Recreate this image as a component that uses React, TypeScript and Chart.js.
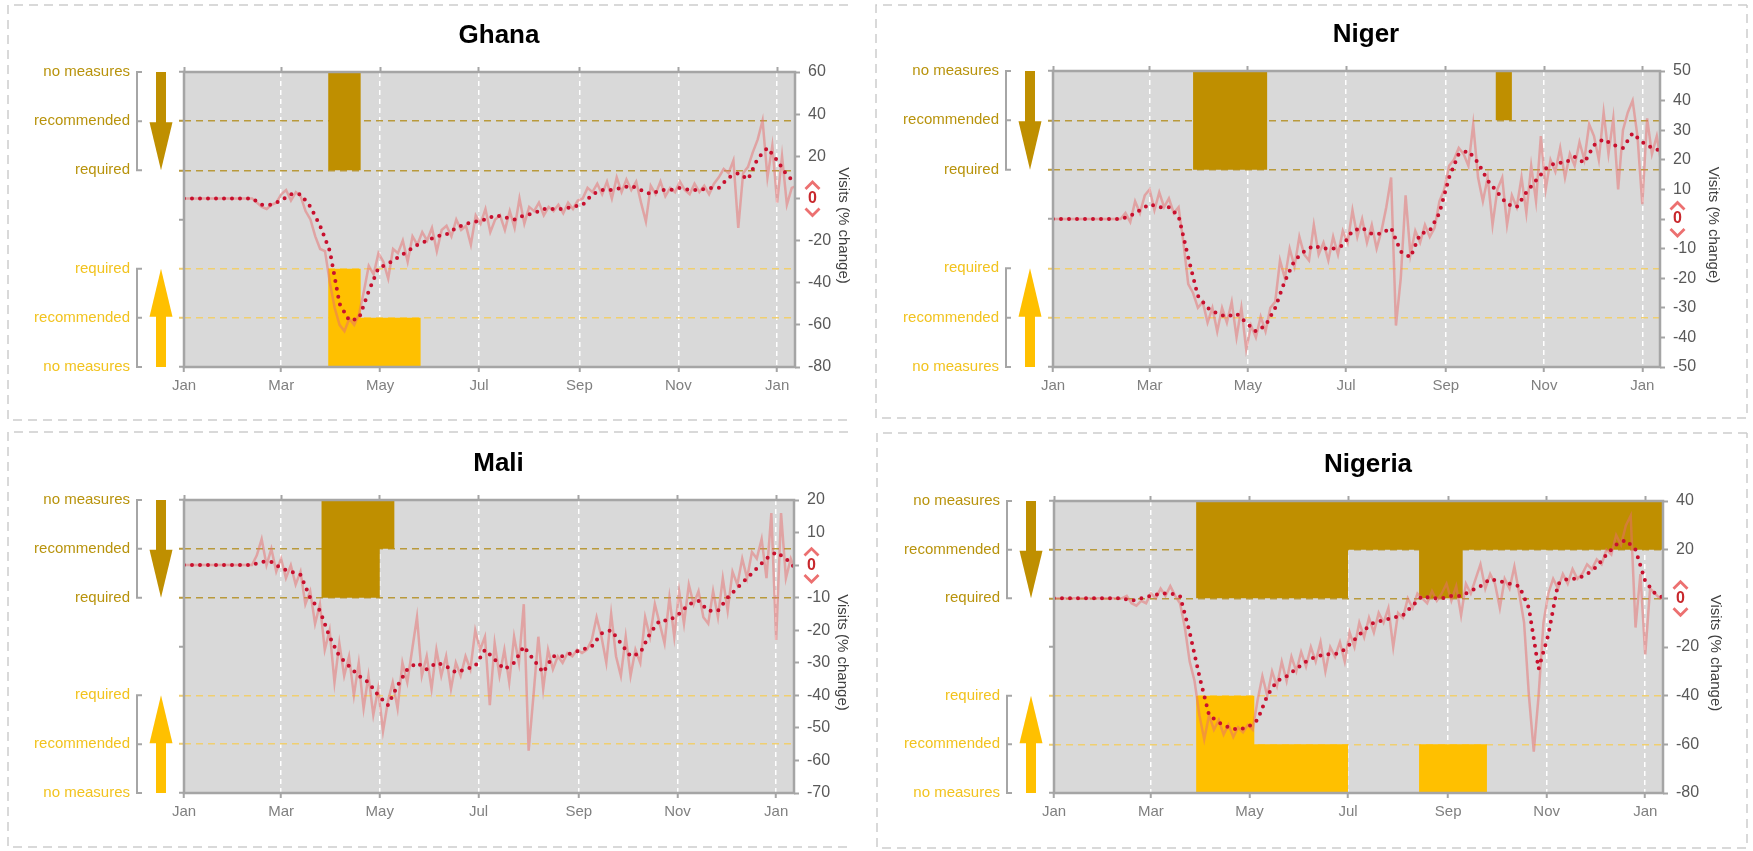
import React, { useEffect, useRef } from 'react';
import { Chart, registerables } from 'chart.js';

Chart.register(...registerables);

const FONT = '"Liberation Sans", Arial, Helvetica, sans-serif';
const X_MAX = 377;
const DAILY_STEP = 3;
const AVG_STEP = 6;

const monthTickDays = [0, 60, 121, 182, 244, 305, 366];
const monthTickLabels = ['Jan', 'Mar', 'May', 'Jul', 'Sep', 'Nov', 'Jan'];
const levelLabels = ['no measures', 'recommended', 'required', '', 'required', 'recommended', 'no measures'];

// ---------- Ghana ----------
const ghanaDaily = [
  0, 0, 0, 0, 0, 0, 0, 0, 0, 0,
  0, 0, 0, 0, 0, -2, -4, -5, -3, -2,
  2, 4, -1, 3, 1, -6, -10, -18, -24, -25,
  -40, -52, -60, -63, -57, -60, -55, -44, -32, -36,
  -26, -30, -38, -24, -26, -20, -30, -18, -22, -16,
  -20, -14, -25, -15, -13, -18, -10, -15, -13, -22,
  -8, -12, -5, -16, -10, -8, -15, -6, -14, 0,
  -12, -4, -6, -2, -8, -4, -6, -3, -7, -2,
  -5, -1, 0, 5, 3, 7, 2, 8, 0, 10,
  3, 9, 4, 8, -2, -11, 6, 2, 8, 1,
  5, 3, 8, 4, 2, 7, 3, 6, 2, 7,
  10, 14, 12, 18, -14, 12, 15, 22, 28, 37,
  10, 25, -2, 20, -3, 5, 6,
];
const ghanaAvg = [
  0, 0, 0, 0, 0, 0, 0, 0, -3, -3,
  -1, 2, 2, -4, -13, -25, -50, -58, -57, -44,
  -33, -31, -28, -25, -22, -20, -18, -17, -14, -12,
  -11, -10, -8, -9, -10, -8, -7, -5, -5, -5,
  -4, -3, 2, 4, 4, 5, 6, 4, 2, 4,
  4, 5, 4, 4, 5, 5, 10, 12, 9, 19,
  24, 18, 11, 7,
];
const ghanaCloseDays = [0, 89, 109];
const ghanaCloseLevels = [0, 2, 0];
const ghanaOpenDays = [0, 89, 109, 146];
const ghanaOpenLevels = [0, 2, 1, 0];

// ---------- Niger ----------
const nigerDaily = [
  0, 0, 0, 0, 0, 0, 0, 0, 0, 0,
  0, 0, 0, 0, 0, 2, -1, 6, 2, 8,
  10, 3, 9, 4, 7, 2, 4, -8, -22, -25,
  -30, -28, -35, -30, -38, -30, -35, -28, -40, -30,
  -44, -36, -40, -33, -38, -30, -28, -14, -20, -10,
  -16, -6, -12, -14, -2, -12, -8, -14, -6, -12,
  -4, -8, 3, -6, 0, -8, -2, -10, -4, 4,
  14, -36, -20, 8, -12, -4, -8, -2, -6, -3,
  6, 10, 18, 20, 24, 22, 18, 32, 14, 6,
  14, -2, 10, 14, -2, 8, 4, 14, 2, 18,
  6, 28, 10, 20, 16, 24, 14, 22, 18, 26,
  20, 32, 28, 20, 36, 22, 34, 10, 30, 36,
  40, 28, 5, 34, 22, 28, 18,
];
const nigerAvg = [
  0, 0, 0, 0, 0, 0, 0, 0, 1, 3,
  5, 4, 4, 1, -13, -26, -30, -32, -33, -32,
  -35, -38, -36, -30, -21, -14, -11, -9, -10, -10,
  -9, -4, -3, -5, -5, -3, -11, -13, -5, -4,
  2, 14, 22, 23, 19, 13, 9, 5, 4, 9,
  13, 17, 19, 19, 21, 19, 25, 27, 25, 24,
  29, 26, 24, 23,
];
const nigerCloseDays = [0, 87, 133, 275, 285];
const nigerCloseLevels = [0, 2, 0, 1, 0];
const nigerOpenDays = [0];
const nigerOpenLevels = [0];

// ---------- Mali ----------
const maliDaily = [
  0, 0, 0, 0, 0, 0, 0, 0, 0, 0,
  0, 0, 0, 0, 0, 3, 8, 0, 5, -2,
  2, -4, 0, -6, -2, -12, -8, -18, -12, -26,
  -20, -36, -24, -34, -28, -40, -30, -44, -34, -46,
  -38, -51, -42, -36, -44, -30, -36, -26, -16, -34,
  -28, -38, -26, -34, -28, -38, -30, -34, -28, -32,
  -20, -26, -22, -43, -24, -34, -26, -36, -22, -30,
  -12, -57, -40, -22, -38, -26, -32, -28, -30, -27,
  -28, -26, -27, -26, -23, -16, -22, -30, -15, -28,
  -34, -22, -34, -26, -30, -16, -22, -12, -18, -24,
  -10, -22, -8, -18, -6, -12, -8, -16, -18, -8,
  -16, -4, -14, -2, -6, 2, -4, 4, 2, 8,
  -4, 16, -23, 16, -4, 2, -2,
];
const maliAvg = [
  0, 0, 0, 0, 0, 0, 0, 0, 1, 1,
  -1, -2, -3, -10, -14, -22, -28, -31, -34, -36,
  -40, -43, -37, -32, -30, -32, -30, -31, -33, -32,
  -31, -26, -29, -32, -30, -25, -29, -33, -28, -28,
  -27, -26, -25, -21, -20, -24, -28, -27, -21, -17,
  -17, -15, -12, -11, -14, -14, -10, -7, -4, -1,
  2, 4, 2, -1,
];
const maliCloseDays = [0, 85, 121, 130];
const maliCloseLevels = [0, 2, 1, 0];
const maliOpenDays = [0];
const maliOpenLevels = [0];

// ---------- Nigeria ----------
const nigeriaDaily = [
  0, 0, 0, 0, 0, 0, 0, 0, 0, 0,
  0, 0, 0, 0, 0, 1, -2, -3, -1, -2,
  2, 0, 4, 1, 5, 1, -2, -12, -26, -34,
  -48, -58, -48, -54, -50, -56, -52, -57, -53, -55,
  -52, -54, -42, -32, -40, -30, -36, -26, -34, -24,
  -30, -22, -28, -20, -26, -18, -30, -20, -24, -18,
  -26, -14, -20, -10, -16, -8, -14, -6, -10, -4,
  -20, -6, -8, 0, -4, 2, 0, -2, 3, -1,
  2, 6, -1, 5, -7, 6, 2, 8, 14, 4,
  10, 6, -4, 8, 4, 13, 2, -10, -40, -63,
  -40, -10, 2, 8, 4, 10, 6, 12, 8, 10,
  14, 12, 16, 14, 20, 18, 26, 22, 30, 34,
  -12, 10, -23, 4, 2, 0, 0,
];
const nigeriaAvg = [
  0, 0, 0, 0, 0, 0, 0, 0, -1, 0,
  1, 2, 2, 1, -14, -32, -48, -51, -53, -54,
  -53, -50, -40, -34, -32, -29, -26, -24, -23, -23,
  -21, -17, -13, -10, -9, -8, -7, -3, 1, 0,
  0, 1, 1, 3, 5, 8, 7, 6, 5, -4,
  -29, -15, 6, 8, 8, 10, 13, 18, 22, 24,
  20, 7, 2, 0,
];
const nigeriaCloseDays = [0, 88, 182, 226, 253];
const nigeriaCloseLevels = [0, 2, 1, 2, 1];
const nigeriaOpenDays = [0, 88, 124, 182, 226, 268];
const nigeriaOpenLevels = [0, 2, 1, 0, 1, 0];

type Box = { x: number; y: number; w: number; h: number };
type Panel = {
  title: string;
  daily: number[];
  avg: number[];
  closeDays: number[];
  closeLevels: number[];
  openDays: number[];
  openLevels: number[];
  yMin: number;
  yMax: number;
  yStep: number;
  canvas: Box;
  box: { x1: number; y1: number; x2: number; y2: number; right: boolean };
  plot: { l: number; t: number; r: number; b: number };
  titleDx: number;
};

const panels: Panel[] = [
  {
    title: 'Ghana', daily: ghanaDaily, avg: ghanaAvg,
    closeDays: ghanaCloseDays, closeLevels: ghanaCloseLevels, openDays: ghanaOpenDays, openLevels: ghanaOpenLevels,
    yMin: -80, yMax: 60, yStep: 20,
    canvas: { x: 0, y: 0, w: 862, h: 425 },
    box: { x1: 8, y1: 5, x2: 848, y2: 420, right: false },
    plot: { l: 184, t: 72, r: 795, b: 381 },
    titleDx: 48,
  },
  {
    title: 'Niger', daily: nigerDaily, avg: nigerAvg,
    closeDays: nigerCloseDays, closeLevels: nigerCloseLevels, openDays: nigerOpenDays, openLevels: nigerOpenLevels,
    yMin: -50, yMax: 50, yStep: 10,
    canvas: { x: 862, y: 0, w: 891, h: 425 },
    box: { x1: 876, y1: 5, x2: 1747, y2: 418, right: true },
    plot: { l: 1053, t: 71, r: 1660, b: 381 },
    titleDx: 53,
  },
  {
    title: 'Mali', daily: maliDaily, avg: maliAvg,
    closeDays: maliCloseDays, closeLevels: maliCloseLevels, openDays: maliOpenDays, openLevels: maliOpenLevels,
    yMin: -70, yMax: 20, yStep: 10,
    canvas: { x: 0, y: 425, w: 862, h: 426 },
    box: { x1: 8, y1: 432, x2: 848, y2: 847, right: false },
    plot: { l: 184, t: 500, r: 794, b: 808 },
    titleDx: 48,
  },
  {
    title: 'Nigeria', daily: nigeriaDaily, avg: nigeriaAvg,
    closeDays: nigeriaCloseDays, closeLevels: nigeriaCloseLevels, openDays: nigeriaOpenDays, openLevels: nigeriaOpenLevels,
    yMin: -80, yMax: 40, yStep: 20,
    canvas: { x: 862, y: 425, w: 891, h: 426 },
    box: { x1: 877, y1: 433, x2: 1747, y2: 848, right: true },
    plot: { l: 1054, t: 501, r: 1663, b: 810 },
    titleDx: 52,
  },
];

const BROWN = '#bf8f00';
const YELLOW = '#ffc000';
const TOP_LABEL = '#b8930c';
const BOTTOM_LABEL = '#f2c31f';
const TOP_DASH = '#b99a3c';
const BOTTOM_DASH = '#f0cf70';
const FRAME = '#a5a5a5';

function seriesPoints(values: number[], step: number) {
  return values.map((v, i) => ({ x: i * step, y: v }));
}

function stepPoints(days: number[], levels: number[], top: boolean) {
  const pts = days.map((d, i) => ({ x: d, y: top ? 6 - levels[i] : levels[i] }));
  const last = levels[levels.length - 1];
  pts.push({ x: X_MAX + 5, y: top ? 6 - last : last });
  return pts;
}

function decorPlugin(p: Panel) {
  return {
    id: 'decor',
    beforeDraw(chart: any) {
      const ctx = chart.ctx as CanvasRenderingContext2D;
      const ca = chart.chartArea;
      ctx.save();
      const bx1 = p.box.x1 - p.canvas.x, by1 = p.box.y1 - p.canvas.y;
      const bx2 = p.box.x2 - p.canvas.x, by2 = p.box.y2 - p.canvas.y;
      ctx.strokeStyle = '#cdcdcd';
      ctx.lineWidth = 1.5;
      ctx.setLineDash([9, 6]);
      ctx.beginPath();
      ctx.moveTo(bx2, by1);
      ctx.lineTo(bx1, by1);
      ctx.lineTo(bx1, by2);
      ctx.lineTo(bx2, by2);
      if (p.box.right) ctx.lineTo(bx2, by1);
      ctx.stroke();
      ctx.setLineDash([]);
      ctx.fillStyle = '#d9d9d9';
      ctx.fillRect(ca.left, ca.top, ca.right - ca.left, ca.bottom - ca.top);
      ctx.fillStyle = '#000000';
      ctx.font = `bold 26px ${FONT}`;
      ctx.textAlign = 'center';
      ctx.textBaseline = 'alphabetic';
      ctx.fillText(p.title, (ca.left + ca.right) / 2 + 9.5, ca.top - 29.5);
      ctx.restore();
    },
    afterDatasetsDraw(chart: any) {
      const ctx = chart.ctx as CanvasRenderingContext2D;
      const ca = chart.chartArea;
      const yP = chart.scales.yP;
      const yS = chart.scales.y;
      const py = (v: number) => yP.getPixelForValue(v);
      ctx.save();
      ctx.strokeStyle = FRAME;
      ctx.lineWidth = 2.5;
      ctx.strokeRect(ca.left, ca.top, ca.right - ca.left, ca.bottom - ca.top);
      ctx.strokeStyle = '#a6a6a6';
      ctx.lineWidth = 2;
      const bx = ca.left - 47;
      [[6, 5, 4], [2, 1, 0]].forEach((g) => {
        ctx.beginPath();
        ctx.moveTo(bx, py(g[0]));
        ctx.lineTo(bx, py(g[2]));
        g.forEach((lv) => {
          ctx.moveTo(bx - 1, py(lv));
          ctx.lineTo(bx + 5, py(lv));
        });
        ctx.stroke();
      });
      const ax = ca.left - 23;
      ctx.fillStyle = BROWN;
      ctx.fillRect(ax - 5, py(6), 10, py(5) + 2 - py(6));
      ctx.beginPath();
      ctx.moveTo(ax - 11.5, py(5) + 1);
      ctx.lineTo(ax + 11.5, py(5) + 1);
      ctx.lineTo(ax, py(4));
      ctx.closePath();
      ctx.fill();
      ctx.fillStyle = YELLOW;
      ctx.fillRect(ax - 5, py(1) - 2, 10, py(0) - py(1) + 2);
      ctx.beginPath();
      ctx.moveTo(ax - 11.5, py(1) - 1);
      ctx.lineTo(ax + 11.5, py(1) - 1);
      ctx.lineTo(ax, py(2));
      ctx.closePath();
      ctx.fill();
      const y0 = yS.getPixelForValue(0);
      const cx = yS.left + 5 + 8 + 4.5;
      ctx.strokeStyle = '#ec7070';
      ctx.lineWidth = 2.8;
      ctx.lineJoin = 'miter';
      ctx.beginPath();
      ctx.moveTo(cx - 7, y0 - 9.5);
      ctx.lineTo(cx, y0 - 16.5);
      ctx.lineTo(cx + 7, y0 - 9.5);
      ctx.moveTo(cx - 7, y0 + 10);
      ctx.lineTo(cx, y0 + 17);
      ctx.lineTo(cx + 7, y0 + 10);
      ctx.stroke();
      ctx.fillStyle = '#404040';
      ctx.font = `15px ${FONT}`;
      ctx.textAlign = 'center';
      ctx.textBaseline = 'middle';
      ctx.translate(ca.right + p.titleDx, (ca.top + ca.bottom) / 2 + 6);
      ctx.rotate(Math.PI / 2);
      ctx.fillText('Visits (% change)', 0, 0);
      ctx.restore();
    },
  };
}

function buildConfig(p: Panel): any {
  const xTicks = (s: any) => {
    s.ticks = monthTickDays.map((v) => ({ value: v }));
  };
  const levelColor = (v: number) =>
    v === 4 || v === 5 ? TOP_DASH : v === 1 || v === 2 ? BOTTOM_DASH : 'rgba(0,0,0,0)';
  return {
    type: 'line',
    data: {
      datasets: [
        {
          label: 'weekly average',
          data: seriesPoints(p.avg, AVG_STEP),
          xAxisID: 'x', yAxisID: 'y',
          borderColor: '#c8102e', borderWidth: 4, borderDash: [0, 8], borderCapStyle: 'round',
          pointRadius: 0, fill: false, tension: 0, order: 0,
        },
        {
          label: 'daily',
          data: seriesPoints(p.daily, DAILY_STEP),
          xAxisID: 'x', yAxisID: 'y',
          borderColor: 'rgba(232,110,110,0.5)', borderWidth: 2.5,
          pointRadius: 0, fill: false, tension: 0, order: 1,
        },
        {
          label: 'opening measures',
          data: stepPoints(p.openDays, p.openLevels, false),
          xAxisID: 'x', yAxisID: 'yP', stepped: 'before',
          borderColor: 'rgba(0,0,0,0)', borderWidth: 0, pointRadius: 0,
          fill: 'start', backgroundColor: YELLOW, order: 2,
        },
        {
          label: 'closing measures',
          data: stepPoints(p.closeDays, p.closeLevels, true),
          xAxisID: 'x', yAxisID: 'yP', stepped: 'before',
          borderColor: 'rgba(0,0,0,0)', borderWidth: 0, pointRadius: 0,
          fill: 'end', backgroundColor: BROWN, order: 3,
        },
      ],
    },
    options: {
      responsive: false,
      animation: false,
      events: [],
      layout: { padding: 0 },
      plugins: { legend: { display: false }, tooltip: { enabled: false }, title: { display: false } },
      scales: {
        x: {
          type: 'linear', position: 'bottom', min: 0, max: X_MAX,
          afterBuildTicks: xTicks,
          afterFit: (s: any) => { s.height = p.canvas.y + p.canvas.h - p.plot.b; },
          grid: { color: '#ffffff', lineWidth: 1.5, drawTicks: true, tickLength: 5, tickColor: FRAME, tickWidth: 2 },
          border: { display: false, dash: [5, 4] },
          ticks: {
            autoSkip: false, maxRotation: 0, padding: 5, color: '#808080',
            font: { size: 15, family: FONT },
            callback: (_v: any, i: number) => monthTickLabels[i],
          },
        },
        x2: {
          type: 'linear', axis: 'x', position: 'top', min: 0, max: X_MAX,
          afterBuildTicks: xTicks,
          afterFit: (s: any) => { s.height = p.plot.t - p.canvas.y; },
          grid: { drawOnChartArea: false, drawTicks: true, tickLength: 5, tickColor: FRAME, tickWidth: 2 },
          border: { display: false },
          ticks: { display: false },
        },
        y: {
          type: 'linear', position: 'right', min: p.yMin, max: p.yMax,
          afterFit: (s: any) => { s.width = p.canvas.x + p.canvas.w - p.plot.r; },
          grid: { drawOnChartArea: false, drawTicks: true, tickLength: 5, tickColor: FRAME, tickWidth: 2 },
          border: { display: false },
          ticks: {
            stepSize: p.yStep, padding: 8,
            color: (c: any) => (c.tick && c.tick.value === 0 ? '#c8282d' : '#595959'),
            font: (c: any) => ({ size: 16, family: FONT, weight: c.tick && c.tick.value === 0 ? 'bold' : 'normal' }),
          },
        },
        yP: {
          type: 'linear', axis: 'y', position: 'left', min: 0, max: 6,
          afterFit: (s: any) => { s.width = p.plot.l - p.canvas.x; },
          grid: {
            lineWidth: 1.5, drawTicks: true, tickLength: 5, tickWidth: 2,
            color: (c: any) => levelColor(c.tick ? c.tick.value : -1),
            tickColor: (c: any) => {
              const v = c.tick ? c.tick.value : -1;
              return v === 0 || v === 3 || v === 6 ? FRAME : levelColor(v);
            },
          },
          border: { display: false, dash: [7, 5] },
          ticks: {
            stepSize: 1, padding: 49, autoSkip: false,
            font: { size: 15, family: FONT },
            color: (c: any) => (c.tick && c.tick.value >= 4 ? TOP_LABEL : BOTTOM_LABEL),
            callback: (v: any) => levelLabels[Math.round(Number(v))] ?? '',
          },
        },
      },
    },
    plugins: [decorPlugin(p)],
  };
}

function PanelChart({ p }: { p: Panel }) {
  const ref = useRef<HTMLCanvasElement | null>(null);
  useEffect(() => {
    if (!ref.current) return;
    const chart = new Chart(ref.current, buildConfig(p));
    return () => chart.destroy();
  }, [p]);
  return (
    <canvas
      ref={ref}
      width={p.canvas.w}
      height={p.canvas.h}
      style={{ position: 'absolute', left: p.canvas.x, top: p.canvas.y, width: p.canvas.w, height: p.canvas.h, display: 'block' }}
    />
  );
}

export default function App() {
  return (
    <div style={{ position: 'absolute', left: 0, top: 0, width: 1753, height: 851, background: '#ffffff', overflow: 'hidden' }}>
      {panels.map((p) => (
        <PanelChart key={p.title} p={p} />
      ))}
    </div>
  );
}
